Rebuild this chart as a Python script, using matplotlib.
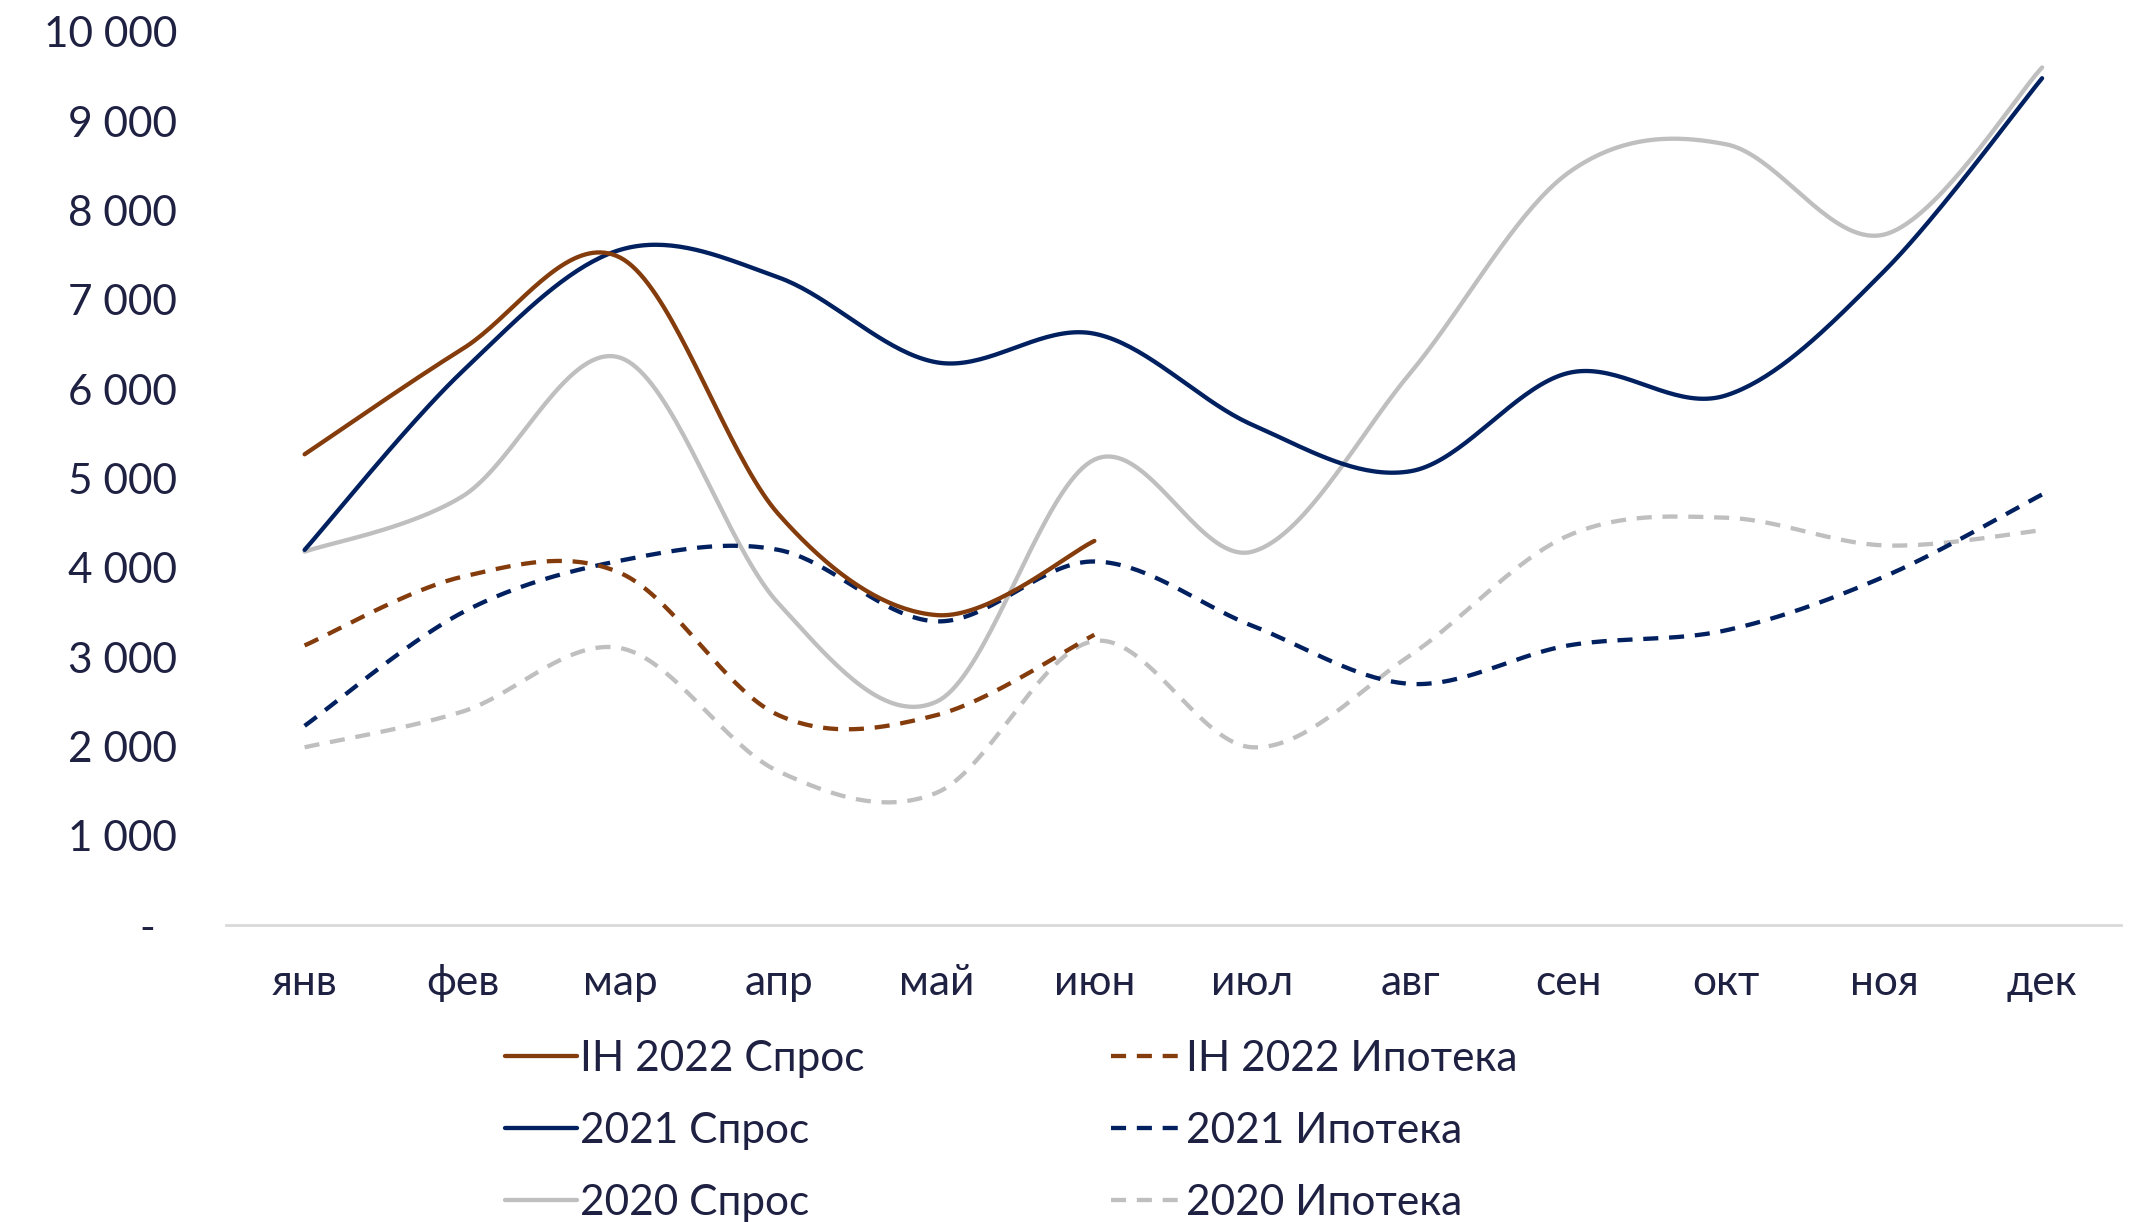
import numpy as np
import matplotlib
matplotlib.use("Agg")
import matplotlib.pyplot as plt
from matplotlib.ticker import FixedLocator, FuncFormatter

plt.rcParams['font.family'] = ['Lato', 'DejaVu Sans']

months = ["янв", "фев", "мар", "апр", "май", "июн",
          "июл", "авг", "сен", "окт", "ноя", "дек"]

demand_2022 = [5270, 6450, 7470, 4600, 3470, 4300]
mortgage_2022 = [3130, 3900, 3940, 2350, 2350, 3250]
demand_2021 = [4200, 6200, 7560, 7250, 6300, 6620, 5600, 5080, 6180, 5930, 7320, 9480]
mortgage_2021 = [2230, 3500, 4080, 4200, 3400, 4070, 3350, 2700, 3130, 3300, 3900, 4820]
demand_2020 = [4180, 4800, 6350, 3600, 2500, 5210, 4180, 6180, 8420, 8740, 7730, 9600]
mortgage_2020 = [1990, 2390, 3100, 1720, 1480, 3180, 1990, 3020, 4360, 4560, 4250, 4420]

BROWN = "#843C0C"
NAVY = "#002060"
GRAY = "#BFBFBF"
TEXT = "#1F2142"
FS = 30.5


def smooth(values, samples=40):
    """Bezier smoothing through the points (cardinal spline, tension 1/6)."""
    y = np.asarray(values, dtype=float)
    x = np.arange(len(y), dtype=float)
    n = len(y)
    xs, ys = [], []
    for i in range(n - 1):
        i0 = max(i - 1, 0)
        i3 = min(i + 2, n - 1)
        p0 = np.array([x[i0], y[i0]])
        p1 = np.array([x[i], y[i]])
        p2 = np.array([x[i + 1], y[i + 1]])
        p3 = np.array([x[i3], y[i3]])
        c1 = p1 + (p2 - p0) / 6.0
        c2 = p2 - (p3 - p1) / 6.0
        t = np.linspace(0, 1, samples, endpoint=(i == n - 2))[:, None]
        pts = ((1 - t) ** 3) * p1 + 3 * ((1 - t) ** 2) * t * c1 \
            + 3 * (1 - t) * t ** 2 * c2 + t ** 3 * p2
        xs.append(pts[:, 0])
        ys.append(pts[:, 1])
    return np.concatenate(xs), np.concatenate(ys)


fig = plt.figure(figsize=(21.49, 12.22), dpi=100)
ax = fig.add_axes([0.105, 0.243, 0.882, 0.731])

dash = (0, (3.5, 2.5))
series = [
    ("IH 2022 Спрос", demand_2022, BROWN, "-"),
    ("2021 Спрос", demand_2021, NAVY, "-"),
    ("2020 Спрос", demand_2020, GRAY, "-"),
    ("IH 2022 Ипотека", mortgage_2022, BROWN, dash),
    ("2021 Ипотека", mortgage_2021, NAVY, dash),
    ("2020 Ипотека", mortgage_2020, GRAY, dash),
]

# draw in back-to-front order: 2020 first, 2022 last
draw_order = [5, 2, 4, 1, 3, 0]
handles = {}
for k in draw_order:
    label, vals, color, ls = series[k]
    sx, sy = smooth(vals)
    ln, = ax.plot(sx, sy, color=color, lw=3.1, linestyle=ls, label=label,
                  solid_capstyle='round', dash_capstyle='butt')
    handles[k] = ln

ax.set_xlim(-0.5, 11.5)
ax.set_ylim(0, 10000)
ax.xaxis.set_major_locator(FixedLocator(range(12)))
ax.set_xticklabels(months)
ax.yaxis.set_major_locator(FixedLocator(np.arange(0, 10001, 1000)))


def fmt(v, pos):
    if v == 0:
        return "-  "
    return f"{int(v):,}".replace(",", " ")


ax.yaxis.set_major_formatter(FuncFormatter(fmt))
ax.tick_params(axis='both', length=0, labelsize=FS, colors=TEXT)
ax.tick_params(axis='y', pad=35)
ax.tick_params(axis='x', pad=28)

for s in ['top', 'right', 'left']:
    ax.spines[s].set_visible(False)
ax.spines['bottom'].set_color("#D9D9D9")
ax.spines['bottom'].set_linewidth(2)

leg = fig.legend([handles[k] for k in range(6)], [series[k][0] for k in range(6)],
                 ncol=2, loc='upper left', bbox_to_anchor=(0.235, 0.149),
                 frameon=False, fontsize=FS, handlelength=1.7, handletextpad=0.08,
                 columnspacing=5.8, labelspacing=0.8, borderpad=0, borderaxespad=0)
for t in leg.get_texts():
    t.set_color(TEXT)

fig.savefig("out.png", dpi=100, facecolor="white")
